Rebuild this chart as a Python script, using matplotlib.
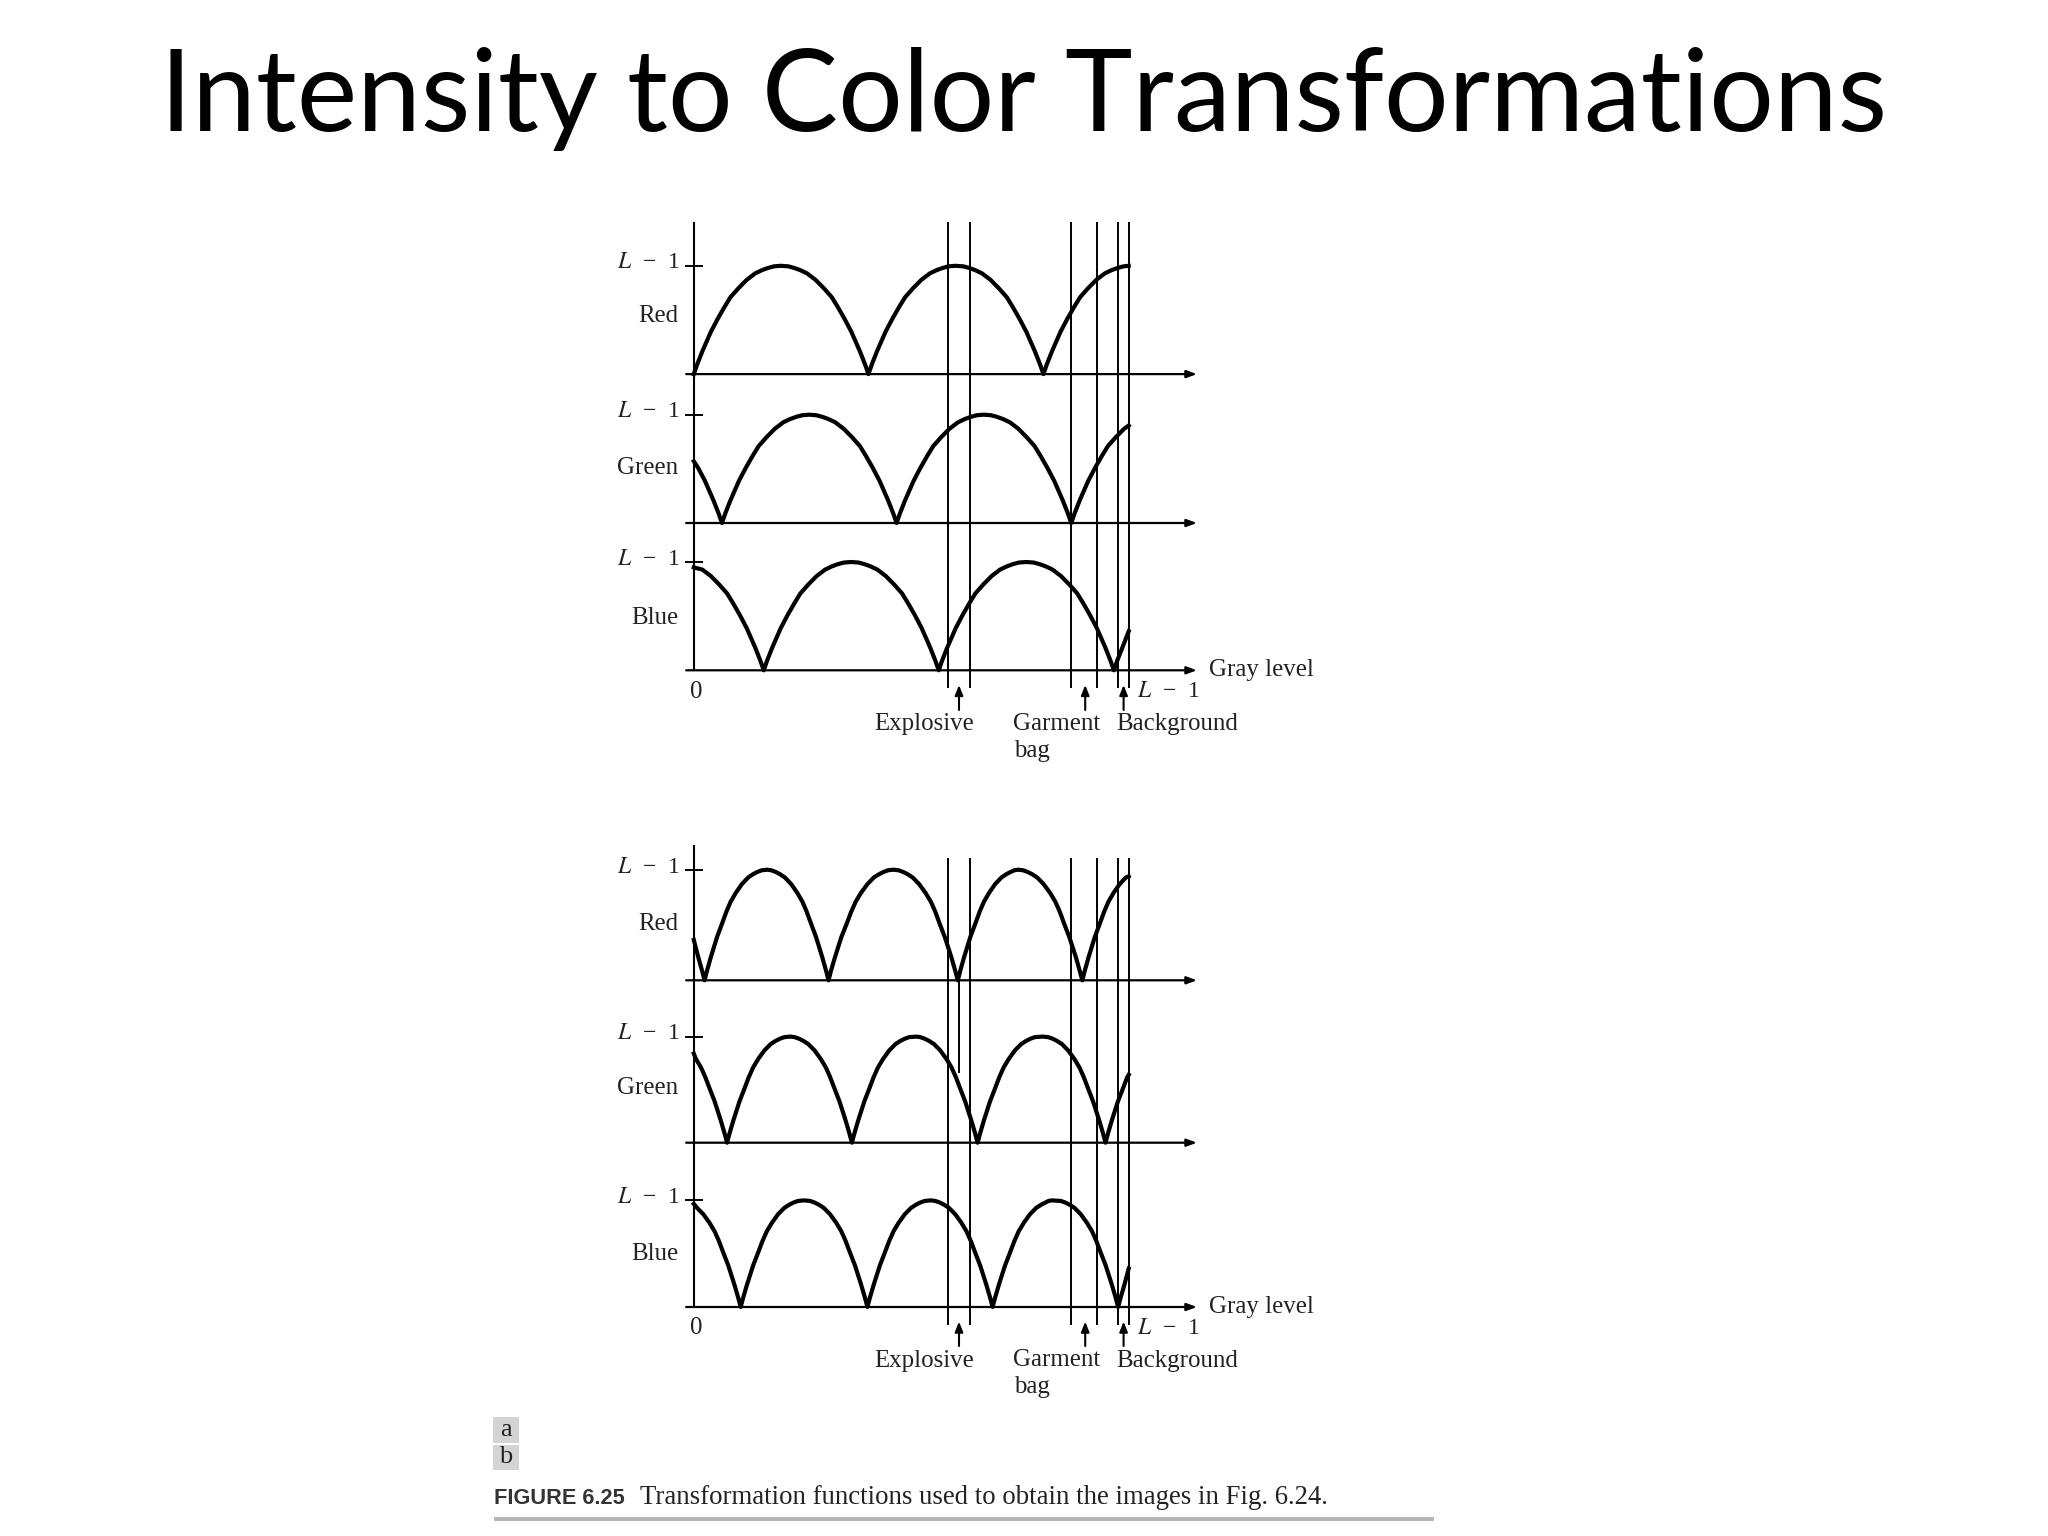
"""Slide: intensity to color transformations (two sets of R/G/B transfer curves)."""
import matplotlib
matplotlib.use("Agg")
import matplotlib.pyplot as plt

plt.rcParams["font.family"] = ["Liberation Serif", "DejaVu Serif"]
plt.rcParams["mathtext.fontset"] = "stix"

W, H = 2048, 1536

# one arch of a transfer curve, starting just after a cusp
rise = [.09, .21, .39, .51, .62, .71, .79, .87, .93, .96, .98, .995, 1]
arch = rise + [.995, .98, .96, .93, .87, .79, .71, .62, .51, .39, .21, .09, 0]

red_a_x = [0,
           2, 5, 10, 14, 18, 21.5, 26, 31, 36, 40, 43.5, 47, 51,
           55.4, 58.9, 62.4, 66.4, 71.4, 76.4, 80.9, 84.4, 88.4, 92.4, 97.4, 100.4, 102.4,
           104.4, 107.4, 112.4, 116.4, 120.4, 123.9, 128.4, 133.4, 138.4, 142.4, 145.9, 149.4, 153.4,
           158, 161.5, 165, 169, 174, 179, 183.5, 187, 191, 195, 200, 203, 205,
           207, 210, 215, 219, 223, 226.5, 231, 236, 241, 245, 248.5, 252, 255]
red_a_y = [0] + arch + arch + rise

green_a_x = [0, 2.5, 6.5, 11.5, 14.5, 16.5,
             18.5, 21.5, 26.5, 30.5, 34.5, 38, 42.5, 47.5, 52.5, 56.5, 60, 63.5, 67.7,
             71.9, 75.4, 78.9, 82.9, 87.9, 92.9, 97.4, 100.9, 104.9, 108.9, 113.9, 116.9, 118.9,
             120.9, 123.9, 128.9, 132.9, 136.9, 140.4, 144.9, 149.9, 154.9, 158.9, 162.4, 165.9, 170,
             174.3, 177.8, 181.3, 185.3, 190.3, 195.3, 199.8, 203.3, 207.3, 211.3, 216.3, 219.3, 221.3,
             223.3, 226.3, 231.3, 235.3, 239.3, 242.8, 247.3, 252.3, 255]
green_a_y = [.57, .51, .39, .21, .09, 0] + arch + arch + [.09, .21, .39, .51, .62, .71, .79, .87, .90]

blue_a_x = [0, 5, 10, 15, 19.5, 23, 27, 31, 36, 39, 41,
            43, 46, 51, 55, 59, 62.5, 67, 72, 77, 81, 84.5, 88, 92.3,
            96.6, 100.1, 103.6, 107.6, 112.6, 117.6, 122.1, 125.6, 129.6, 133.6, 138.6, 141.6, 143.6,
            145.6, 148.6, 153.6, 157.6, 161.6, 165.1, 169.6, 174.6, 179.6, 183.6, 187.1, 190.6, 195,
            199.3, 202.8, 206.3, 210.3, 215.3, 220.3, 224.8, 228.3, 232.3, 236.3, 241.3, 244.3, 246.3,
            248.3, 251.3, 255]
blue_a_y = [.95, .93, .87, .79, .71, .62, .51, .39, .21, .09, 0] + arch + arch + [.09, .21, .36]

red_b_x = [0, 2.6, 4.8, 6.3,
           7.8, 10, 13.6, 16.5, 19.1, 21.6, 24.6, 28.2, 31.9, 34.8, 37.3, 39.9, 43,
           45.4, 48, 50.5, 53.4, 57.1, 60.7, 63.7, 66.2, 68.8, 71.7, 75.3, 77.5, 79,
           80.5, 82.8, 86.5, 89.6, 92.3, 94.9, 98, 101.8, 105.6, 108.7, 111.3, 114, 117,
           120, 122.7, 125.3, 128.3, 132.1, 135.9, 139, 141.6, 144.2, 147.2, 151, 153.2, 154.8,
           156.3, 158.5, 162.1, 165, 167.6, 170.1, 173.1, 176.7, 180.4, 183.3, 185.8, 188, 190,
           193, 195.7, 198.3, 201.3, 205.1, 208.9, 212, 214.6, 217.2, 220.2, 224, 226.2, 227.8,
           229.3, 231.5, 235.1, 238, 240.6, 243.1, 246.1, 249.7, 253.4, 255]
red_b_y = [.365, .21, .09, 0] + arch + arch + arch + [.09, .21, .39, .51, .62, .71, .79, .87, .93, .94]

green_b_x = [0, 1.2, 4.2, 6.7, 9.3, 12.2, 15.8, 18, 19.5,
             21, 23.2, 26.8, 29.7, 32.3, 34.8, 37.8, 41.4, 45.1, 48, 50.5, 53.1, 56.8,
             59.1, 61.7, 64.2, 67.1, 70.8, 74.4, 77.4, 79.9, 82.5, 85.4, 89, 91.2, 92.7,
             94.2, 96.4, 100, 102.9, 105.5, 108, 111, 114.6, 118.3, 121.2, 123.7, 126.3, 130.5,
             132.8, 135.4, 137.9, 140.8, 144.5, 148.1, 151.1, 153.6, 156.2, 159.1, 162.7, 164.9, 166.4,
             167.9, 170.1, 173.7, 176.6, 179.2, 181.7, 184.7, 188.3, 192, 194.9, 197.4, 200, 204.5,
             207.8, 210.4, 212.9, 215.8, 219.5, 223.1, 226.1, 228.6, 231.2, 234.1, 237.7, 239.9, 241.4,
             242.9, 245.1, 248.7, 251.6, 254.2, 255]
green_b_y = [.84, .79, .71, .62, .51, .39, .21, .09, 0] + arch + arch + arch + [.09, .21, .39, .51, .62, .64]

blue_b_x = [0, 1.9, 5.6, 9.2, 12.2, 14.7, 17.3, 20.2, 23.8, 26, 27.5,
            29, 31.2, 34.8, 37.7, 40.3, 42.8, 45.8, 49.4, 53.1, 56, 58.5, 61.1, 64.5,
            68.2, 70.8, 73.3, 76.2, 79.9, 83.5, 86.5, 89, 91.6, 94.5, 98.1, 100.3, 101.8,
            103.3, 105.5, 109.1, 112, 114.6, 117.1, 120.1, 123.7, 127.4, 130.3, 132.8, 135.4, 139,
            141.6, 144.2, 146.7, 149.6, 153.3, 156.9, 159.9, 162.4, 165, 167.9, 171.5, 173.7, 175.2,
            176.7, 178.9, 182.5, 185.4, 188, 190.5, 193.5, 197.1, 200.8, 203.7, 206.2, 208, 210,
            215.2, 217.8, 220.3, 223.2, 226.9, 230.5, 233.5, 236, 238.6, 241.5, 245.1, 247.3, 248.8,
            250.3, 252.5, 255]
blue_b_y = [.967, .93, .87, .79, .71, .62, .51, .39, .21, .09, 0] + arch + arch + arch + [.09, .21, .36]

# gray levels of the vertical band edges and the arrows below the axis
band_edges = [148.8, 161.9, 221.3, 236.5, 248.5, 255]
arrow_levels = [155.5, 229.5, 252]
band_names = ["Explosive", "Garment", "Background"]
channels = ["Red", "Green", "Blue"]

X0, XSCALE = 693.8, 1.7055  # px of level 0, px per level
L_LABEL = r"$L$  −  1"


def strip_ax(fig, base, top):
    """Axes with x in gray levels and y 0..1 between base and top (pixel rows)."""
    ax = fig.add_axes([X0 / W, 1 - base / H, 255 * XSCALE / W, (base - top) / H])
    ax.set_xlim(0, 255)
    ax.set_ylim(0, 1)
    ax.axis("off")
    return ax


def txt(fig, x, y, s, **kw):
    kw.setdefault("fontsize", 17.9)
    kw.setdefault("color", "#222222")
    kw.setdefault("va", "center")
    fig.text(x / W, 1 - (y + 2.5) / H, s, **kw)


def draw_panel(fig, rows, curves, label_ys, name_ys, vtop, axis_top, arrow_rows, text_rows):
    axes = []
    for (base, top), (cx, cy), ly, ny in zip(rows, curves, label_ys, name_ys):
        ax = strip_ax(fig, base, top)
        ax.plot(cx, cy, color="black", lw=3.0, clip_on=False, solid_joinstyle="round", zorder=4)
        ax.plot([-4.5, 5], [1, 1], color="black", lw=1.4, clip_on=False)
        ax.annotate("", xy=(295, 0), xytext=(-4.5, 0), annotation_clip=False,
                    arrowprops=dict(arrowstyle="-|>,head_length=0.6,head_width=0.22", lw=1.6,
                                    color="black", shrinkA=0, shrinkB=0))
        axes.append(ax)
        txt(fig, 680, ly, L_LABEL, ha="right", fontsize=17)
        txt(fig, 678.5, ny, channels[len(axes) - 1], ha="right")

    # vertical marks live on the bottom strip, in units of its own height
    ax = axes[2]
    base = rows[2][0]
    h = rows[2][0] - rows[2][1]
    ax.vlines(band_edges, (base - arrow_rows[1] - 3) / h, vtop, color="black", lw=1.4, clip_on=False)
    ax.vlines([0], 0, axis_top, color="black", lw=1.5, clip_on=False)
    for lev in arrow_levels:
        ax.annotate("", xy=(lev, (base - arrow_rows[1]) / h), xytext=(lev, (base - arrow_rows[0]) / h),
                    annotation_clip=False,
                    arrowprops=dict(arrowstyle="-|>,head_length=0.6,head_width=0.24", lw=1.5,
                                    color="black", shrinkA=0, shrinkB=0))

    gray_y, zero_y, row_y, bag_y = text_rows
    txt(fig, 1209, gray_y, "Gray level")
    txt(fig, 696, zero_y, "0", ha="center")
    txt(fig, 1137, zero_y, L_LABEL, fontsize=17)
    txt(fig, 874.5, row_y, band_names[0])
    txt(fig, 1013.5, row_y, band_names[1])
    txt(fig, 1014, bag_y, "bag")
    txt(fig, 1116, row_y, band_names[2])
    return axes


fig = plt.figure(figsize=(W / 100, H / 100), dpi=100, facecolor="white")

fig.text(0.5, 1 - 131 / H, "Intensity to Color Transformations", family="Lato", fontsize=82.3,
         ha="center", va="baseline", color="black")

draw_panel(fig, [(374.1, 265.8), (523, 414.7), (670.3, 562)],
           [(red_a_x, red_a_y), (green_a_x, green_a_y), (blue_a_x, blue_a_y)],
           [260, 408.6, 556.7], [314, 466, 615], vtop=4.14, axis_top=4.14,
           arrow_rows=(710, 685), text_rows=(667.7, 689, 721.6, 749))

axes_b = draw_panel(fig, [(980.3, 869.7), (1142.7, 1036.6), (1307, 1200.4)],
                    [(red_b_x, red_b_y), (green_b_x, green_b_y), (blue_b_x, blue_b_y)],
                    [865, 1031, 1195], [921, 1085.5, 1251.5], vtop=4.21, axis_top=4.33,
                    arrow_rows=(1346, 1321.6), text_rows=(1304, 1326, 1358, 1385))
# the short extra mark at the explosive level in the lower set
axes_b[1].vlines([155.5], 0.66, 1.55, color="black", lw=1.4, clip_on=False)

# subfigure letters and caption
for label, top, bottom in (("a", 1417, 1443), ("b", 1444.5, 1469.5)):
    fig.patches.append(plt.Rectangle((493 / W, 1 - bottom / H), 26 / W, (bottom - top) / H,
                                     transform=fig.transFigure, facecolor="#d4d4d4", edgecolor="none"))
    txt(fig, 506, (top + bottom) / 2 - 2.5, label, ha="center", fontsize=19)

txt(fig, 494, 1495.5, "FIGURE 6.25", family="Liberation Sans", fontweight="bold", fontsize=15.7, color="#333333")
txt(fig, 640, 1495.5, "Transformation functions used to obtain the images in Fig. 6.24.", fontsize=19.25)
fig.patches.append(plt.Rectangle((494 / W, 1 - 1521 / H), 940 / W, 4 / H, transform=fig.transFigure,
                                 facecolor="#b5b5b5", edgecolor="none"))

fig.savefig("out.png", dpi=100)
